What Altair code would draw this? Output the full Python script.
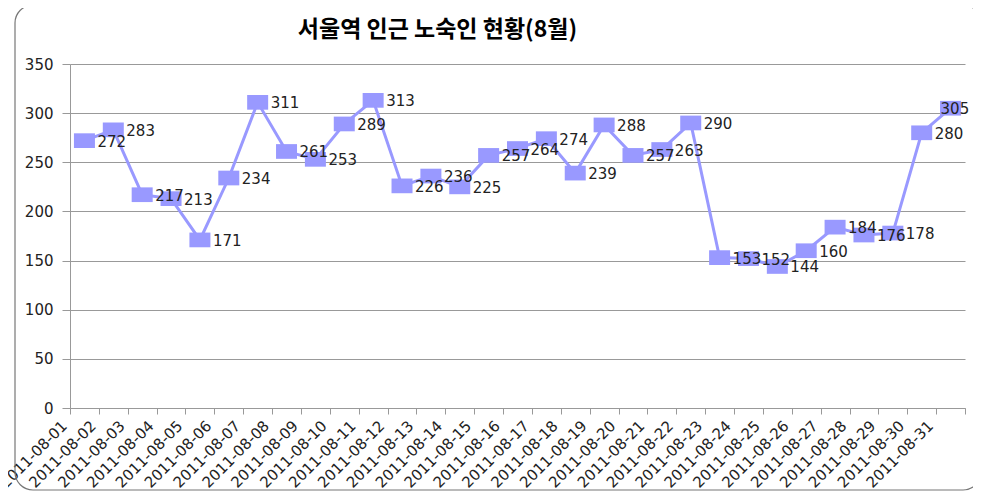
import altair as alt
import pandas as pd

dates = ["2011-08-01", "2011-08-02", "2011-08-03", "2011-08-04", "2011-08-05",
         "2011-08-06", "2011-08-07", "2011-08-08", "2011-08-09", "2011-08-10",
         "2011-08-11", "2011-08-12", "2011-08-13", "2011-08-14", "2011-08-15",
         "2011-08-16", "2011-08-17", "2011-08-18", "2011-08-19", "2011-08-20",
         "2011-08-21", "2011-08-22", "2011-08-23", "2011-08-24", "2011-08-25",
         "2011-08-26", "2011-08-27", "2011-08-28", "2011-08-29", "2011-08-30",
         "2011-08-31"]
counts = [272, 283, 217, 213, 171, 234, 311, 261, 253, 289,
          313, 226, 236, 225, 257, 264, 274, 239, 288, 257,
          263, 290, 153, 152, 144, 160, 184, 176, 178, 280,
          305]
y_ticks = [0, 50, 100, 150, 200, 250, 300, 350]
title_text = "서울역 인근 노숙인 현황(8월)"

df = pd.DataFrame({"date": dates, "count": counts, "idx": list(range(len(dates)))})
last_idx = len(dates) - 1

COLOR = "#9999FF"
label_expr = "[" + ",".join(repr(d) for d in dates) + "][datum.value] || ''"

x_enc = alt.X(
    "pos:Q",
    scale=alt.Scale(domain=[0, len(dates)], nice=False, zero=False),
    axis=alt.Axis(
        values=list(range(len(dates) + 1)),
        labelExpr=label_expr,
        grid=False,
        domainColor="#999",
        tickColor="#999",
        tickSize=6,
        labelAngle=-45,
        labelAlign="right",
        labelBaseline="middle",
        labelPadding=9,
        labelOffset=-6,
        labelFont="DejaVu Sans",
        labelFontSize=15,
        labelColor="#222",
        labelOverlap=False,
        title=None,
    ),
)
y_enc = alt.Y(
    "count:Q",
    scale=alt.Scale(domain=[0, 350], nice=False),
    axis=alt.Axis(
        values=y_ticks,
        grid=True,
        gridColor="#999",
        domainColor="#999",
        tickColor="#999",
        tickSize=8,
        labelPadding=9,
        labelFont="DejaVu Sans",
        labelFontSize=15,
        labelColor="#222",
        title=None,
    ),
)

base = alt.Chart(df).transform_calculate(pos="datum.idx + 0.5")

line = base.mark_line(color=COLOR, strokeWidth=3).encode(x=x_enc, y=y_enc)
points = base.mark_point(
    shape="M-1,-0.7L1,-0.7L1,0.7L-1,0.7Z",
    size=441, filled=True, color=COLOR, opacity=1, strokeWidth=0,
).encode(x=x_enc, y=y_enc)
text_style = dict(align="left", baseline="middle", dy=1,
                  font="DejaVu Sans", fontSize=15, color="#222")
labels = base.transform_filter(f"datum.idx < {last_idx}").mark_text(
    dx=13, **text_style
).encode(x=x_enc, y=y_enc, text="count:Q")
labels_last = base.transform_filter(f"datum.idx == {last_idx}").mark_text(
    dx=-10, **text_style
).encode(x=x_enc, y=y_enc, text="count:Q")

border = alt.Chart(pd.DataFrame({"k": [0]})).mark_rect(
    fillOpacity=0, stroke="#777", strokeWidth=1.2, cornerRadius=18,
).encode(
    x=alt.value(-55), x2=alt.value(911),
    y=alt.value(-59), y2=alt.value(426),
)

chart = alt.layer(border, line, points, labels, labels_last).properties(
    width=895,
    height=344,
    title=alt.TitleParams(
        title_text, font="Noto Sans CJK KR", fontSize=23, fontWeight="bold",
        color="#000", anchor="middle", frame="group", baseline="bottom",
        dx=-80, dy=85, offset=24,
    ),
    autosize=alt.AutoSizeParams(type="none"),
    padding={"left": 62, "top": 56, "right": 8, "bottom": 84},
).configure_view(stroke=None)

chart.save("out.html", embed_options={"renderer": "svg", "actions": False})
